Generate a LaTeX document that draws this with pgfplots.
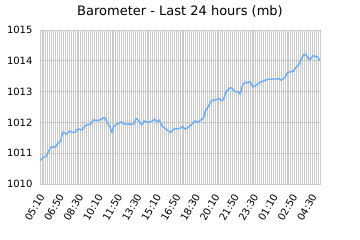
\documentclass[border=0pt]{standalone}
\usepackage{fontspec}
\setmainfont{DejaVu Sans}
\usepackage{pgfplots}
\pgfplotsset{compat=1.18}
\definecolor{gridc}{RGB}{202,202,202}
\definecolor{linec}{RGB}{105,172,250}
\begin{document}
\begin{tikzpicture}
\useasboundingbox (0pt,0pt) rectangle (360pt,240pt);
\node[font=\fontsize{13}{15}\selectfont, anchor=base] at (180pt,224.5pt) {Barometer - Last 24 hours (mb)};
\begin{axis}[
  at={(40pt,56pt)}, anchor=south west,
  scale only axis, width=280pt, height=154pt,
  xmin=0, xmax=1440, ymin=1010, ymax=1015,
  ytick={1010,1011,1012,1013,1014,1015},
  xtick={0,100,...,1400},
  xticklabels={05:10,06:50,08:30,10:10,11:50,13:30,15:10,16:50,18:30,20:10,21:50,23:30,01:10,02:50,04:30},
  minor xtick={0,10,...,1440},
  major tick length=0pt, minor tick length=0pt,
  grid=both,
  major grid style={gridc, line width=0.8pt},
  minor grid style={gridc, line width=0.8pt},
  axis line style={gridc},
  tick label style={font=\fontsize{10}{12}\selectfont, /pgf/number format/assume math mode=true},
  /pgf/number format/1000 sep={},
  yticklabel style={xshift=-4pt},
  xticklabel style={rotate=60, anchor=east, xshift=-5pt, yshift=-7pt},
]
\addplot[linec, line width=1.4pt, line join=round] coordinates {
(0,1010.76)(14,1010.85)(31,1010.89)(43,1011.05)(55,1011.19)(68,1011.21)(77,1011.18)
(94,1011.34)(106,1011.38)(117,1011.68)(129,1011.65)(137,1011.61)(151,1011.72)(163,1011.68)
(180,1011.68)(197,1011.79)(214,1011.75)(231,1011.88)(248,1011.94)(257,1011.92)(274,1012.08)
(292,1012.06)(309,1012.08)(322,1012.13)(334,1012.15)(346,1011.99)(360,1011.86)(369,1011.67)
(381,1011.88)(391,1011.93)(403,1011.97)(420,1012.02)(432,1011.94)(446,1011.95)(463,1011.94)
(483,1011.95)(494,1012.13)(506,1012.06)(523,1011.92)(535,1012.05)(552,1012.00)(574,1012.03)
(591,1012.10)(603,1012.01)(614,1012.08)(626,1011.88)(643,1011.81)(660,1011.72)(672,1011.67)
(686,1011.78)(703,1011.79)(720,1011.81)(734,1011.86)(746,1011.78)(763,1011.84)(780,1011.94)
(797,1012.05)(811,1012.00)(823,1012.06)(840,1012.13)(849,1012.35)(860,1012.46)(874,1012.62)
(883,1012.70)(900,1012.73)(922,1012.77)(934,1012.70)(943,1012.74)(957,1013.00)(974,1013.11)
(986,1013.12)(1003,1013.00)(1020,1012.99)(1029,1012.92)(1042,1013.21)(1054,1013.29)(1071,1013.29)
(1080,1013.32)(1094,1013.16)(1111,1013.20)(1123,1013.27)(1135,1013.31)(1148,1013.34)(1166,1013.39)
(1183,1013.40)(1200,1013.41)(1217,1013.41)(1231,1013.42)(1238,1013.37)(1251,1013.41)(1260,1013.46)
(1272,1013.61)(1286,1013.64)(1303,1013.66)(1317,1013.79)(1328,1013.86)(1337,1013.94)(1346,1014.09)
(1359,1014.22)(1372,1014.16)(1385,1014.03)(1397,1014.11)(1406,1014.17)(1419,1014.13)(1431,1014.11)
(1440,1014.00)
};
\end{axis}
\end{tikzpicture}
\end{document}
